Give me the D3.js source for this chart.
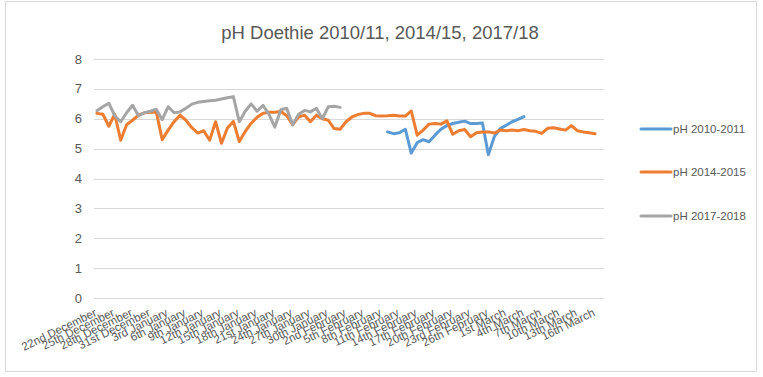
<!DOCTYPE html>
<html><head><meta charset="utf-8">
<script src="https://cdn.jsdelivr.net/npm/d3@7"></script>
<style>
html,body{margin:0;padding:0;background:#fff;}
svg{display:block;font-family:"Liberation Sans",Arial,sans-serif;}
</style></head>
<body><svg id="c" width="763" height="377"></svg>
<script>
const categories = [
 "22nd December","23rd December","24th December","25th December","26th December","27th December","28th December","29th December","30th December","31st December",
 "1st January","2nd January","3rd January","4th January","5th January","6th January","7th January","8th January","9th January","10th January",
 "11th January","12th January","13th January","14th January","15th January","16th January","17th January","18th January","19th January","20th January",
 "21st January","22nd January","23rd January","24th January","25th January","26th January","27th January","28th January","29th January","30th January","31st January",
 "1st February","2nd February","3rd February","4th February","5th February","6th February","7th February","8th February","9th February","10th February",
 "11th February","12th February","13th February","14th February","15th February","16th February","17th February","18th February","19th February","20th February",
 "21st February","22nd February","23rd February","24th February","25th February","26th February","27th February","28th February",
 "1st March","2nd March","3rd March","4th March","5th March","6th March","7th March","8th March","9th March","10th March",
 "11th March","12th March","13th March","14th March","15th March","16th March","17th March"];
const tickLabels = ["22nd December","25th December","28th December","31st December","3rd January","6th January","9th January","12th January","15th January","18th January","21st January","24th January","27th January","30th January","2nd February","5th February","8th February","11th February","14th February","17th February","20th February","23rd February","26th February","1st March","4th March","7th March","10th March","13th March","16th March"];
const yTicks = [0,1,2,3,4,5,6,7,8];
const seriesNames = ["pH 2010-2011","pH 2014-2015","pH 2017-2018"];

// first category index of each series, then its daily values
const ph1011Start = 49;
const ph1011 = [5.56,5.5,5.53,5.65,4.85,5.2,5.3,5.23,5.45,5.65,5.77,5.84,5.88,5.92,5.84,5.84,5.86,4.8,5.4,5.67,5.78,5.9,5.98,6.07];
const ph1415Start = 0;
const ph1415 = [6.18,6.15,5.75,6.15,5.28,5.8,5.95,6.12,6.2,6.22,
 6.23,5.3,5.62,5.9,6.12,5.95,5.7,5.52,5.6,5.28,
 5.9,5.18,5.69,5.91,5.24,5.57,5.85,6.05,6.18,6.22,
 6.22,6.24,6.1,5.8,6.06,6.12,5.9,6.12,6.0,5.95,
 5.67,5.65,5.9,6.06,6.14,6.18,6.18,6.1,6.09,6.1,
 6.12,6.09,6.09,6.26,5.45,5.62,5.82,5.84,5.82,5.93,
 5.48,5.6,5.64,5.4,5.53,5.56,5.56,5.52,5.62,5.6,
 5.62,5.6,5.64,5.6,5.58,5.51,5.68,5.7,5.66,5.62,
 5.77,5.6,5.56,5.53,5.5];
const ph1718Start = 0;
const ph1718 = [6.27,6.4,6.52,6.1,5.9,6.2,6.45,6.1,6.2,6.25,
 6.32,5.97,6.4,6.2,6.23,6.35,6.49,6.55,6.58,6.6,
 6.62,6.66,6.7,6.74,5.9,6.25,6.5,6.25,6.45,6.15,
 5.72,6.3,6.35,5.8,6.15,6.28,6.23,6.35,6.0,6.4,
 6.42,6.38];

const colors = ["#5B9BD5","#ED7D31","#A5A5A5"];

const svg = d3.select("#c");
const textCol = "#595959";

// outer border
svg.append("rect").attr("x",5.5).attr("y",1.5).attr("width",751).attr("height",370)
  .attr("fill","#fff").attr("stroke","#d9d9d9").attr("stroke-width",1);

// title
svg.append("text").attr("x",380).attr("y",39).attr("text-anchor","middle")
  .attr("fill",textCol).attr("font-size",18.5).text("pH Doethie 2010/11, 2014/15, 2017/18");

const x = d3.scaleBand().domain(categories).range([94,604]).paddingInner(0).paddingOuter(0);
const y = d3.scaleLinear().domain([0,8]).range([298,59]);
const cx = c => x(c) + x.bandwidth()/2;

// gridlines
svg.append("g").selectAll("line").data(yTicks).join("line")
  .attr("x1",94).attr("x2",604)
  .attr("y1",d=>Math.round(y(d))+0.5).attr("y2",d=>Math.round(y(d))+0.5)
  .attr("stroke","#d9d9d9").attr("stroke-width",1);

// y labels
svg.append("g").selectAll("text").data(yTicks).join("text")
  .attr("x",82).attr("y",d=>y(d)).attr("dy","0.35em").attr("text-anchor","end")
  .attr("fill",textCol).attr("font-size",13).text(d=>d);

// x labels
svg.append("g").selectAll("text").data(tickLabels).join("text")
  .attr("transform",d=>`translate(${cx(d)-3},${308}) rotate(-26)`)
  .attr("text-anchor","end").attr("dy","0.7em")
  .attr("fill",textCol).attr("font-size",11.5).text(d=>d);

function toPoints(start, vals){
  return vals.map((v,i)=>({c:categories[start+i], v}));
}
const series = [toPoints(ph1011Start,ph1011), toPoints(ph1415Start,ph1415), toPoints(ph1718Start,ph1718)];
const line = d3.line().defined(d=>d.v!=null).x(d=>cx(d.c)).y(d=>y(d.v));

series.forEach((s,i)=>{
  svg.append("path").datum(s).attr("d",line).attr("fill","none")
    .attr("stroke",colors[i]).attr("stroke-width",3)
    .attr("stroke-linejoin","round").attr("stroke-linecap","round");
});

// legend
const legY = [129,172,216];
seriesNames.forEach((n,i)=>{
  svg.append("line").attr("x1",641).attr("x2",671).attr("y1",legY[i]).attr("y2",legY[i])
    .attr("stroke",colors[i]).attr("stroke-width",3).attr("stroke-linecap","round");
  svg.append("text").attr("x",673).attr("y",legY[i]).attr("dy","0.35em")
    .attr("fill",textCol).attr("font-size",11.5).text(n);
});
</script></body></html>
